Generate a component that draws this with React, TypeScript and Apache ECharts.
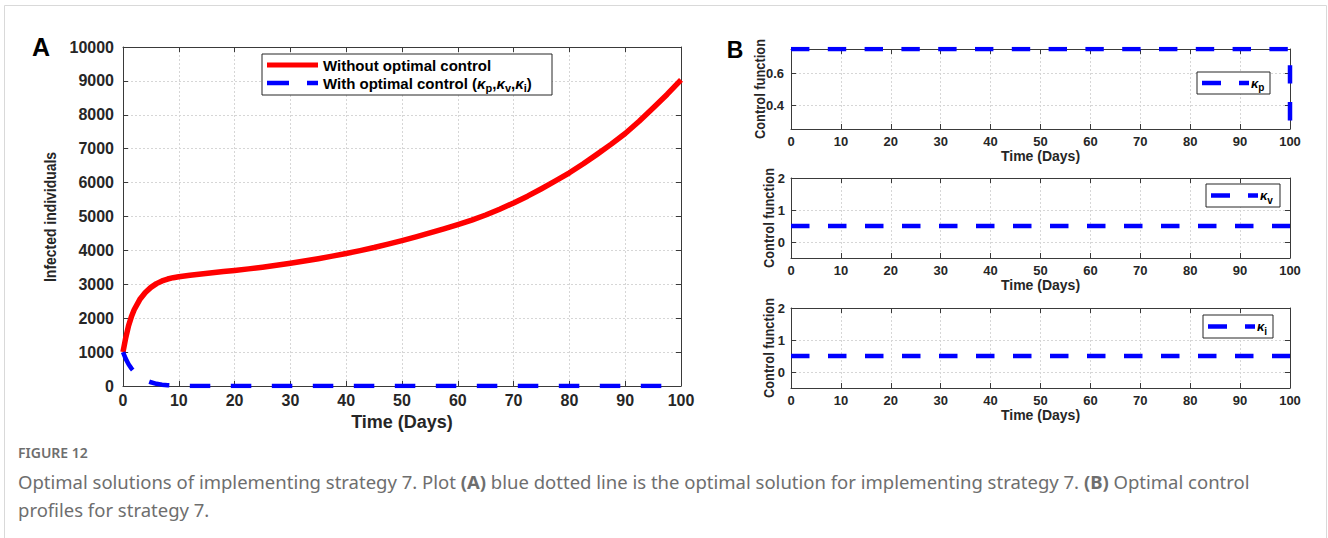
import React, { useEffect, useRef } from "react";
import * as echarts from "echarts";

// Panel A: infected individuals over time
const daysWithout = [
  0, 0.5, 1, 1.5, 2, 3, 4, 5, 6, 7, 8, 9, 10, 12, 14, 16, 18, 20, 22.5, 25, 27.5, 30, 32.5, 35, 37.5, 40,
  42.5, 45, 47.5, 50, 52.5, 55, 57.5, 60, 62.5, 65, 67.5, 70, 72.5, 75, 77.5, 80, 82.5, 85, 87.5, 90, 92.5, 95, 97.5, 100,
];
const infectedWithout = [
  1000, 1430, 1780, 2040, 2250, 2550, 2760, 2910, 3020, 3100, 3155, 3195, 3225, 3268, 3305, 3340, 3375, 3410, 3455, 3505, 3560, 3620, 3685, 3755, 3830, 3910,
  3995, 4085, 4185, 4290, 4400, 4515, 4635, 4760, 4895, 5045, 5215, 5400, 5600, 5820, 6050, 6290, 6555, 6840, 7135, 7450, 7810, 8200, 8600, 9030,
];

const daysWith = [0, 0.5, 1, 1.5, 2, 3, 4, 5, 6, 7, 8, 10, 12, 15, 20, 30, 40, 50, 60, 70, 80, 90, 100];
const infectedWith = [1000, 800, 640, 520, 420, 270, 170, 110, 65, 40, 22, 8, 3, 1, 0, 0, 0, 0, 0, 0, 0, 0, 0];

// Panel B: control profiles
const kpDays = [0, 100, 100];
const kpValues = [0.75, 0.75, 0.25];
const kvDays = [0, 100];
const kvValues = [0.5, 0.5];
const kiDays = [0, 100];
const kiValues = [0.5, 0.5];

const xTicks = [0, 100, 10];
const yTicksA = [0, 10000, 1000];
const yTicksKp = [0.4, 0.6];
const yTicksKvKi = [0, 1, 2];

const legendA = ["Without optimal control", "With optimal control"];
const yTitleA = "Infected individuals";
const yTitleB = "Control function";
const captionTitle = "FIGURE 12";

const AXIS_COLOR = "#3a3a3a";
const LABEL_COLOR = "#262626";
const GRID_LINE = { color: "#d6d6d6", type: [2, 2] as number[], width: 1 };
const BOLD = "'Liberation Sans', Arial, sans-serif";
const CAPTION_FONT = "'Noto Sans', sans-serif";
const CAPTION_COLOR = "#6e6e6e";

const zip = (xs: number[], ys: number[]) => xs.map((x, i) => [x, ys[i]]);

type GridBox = { left: number; top: number; width: number; height: number };
const grids: GridBox[] = [
  { left: 123, top: 47, width: 558, height: 339 },
  { left: 791, top: 49, width: 499, height: 80 },
  { left: 791, top: 178, width: 499, height: 80 },
  { left: 791, top: 308, width: 499, height: 80 },
];

function mainX(gridIndex: number, fontSize: number, nameSize: number, nameGap: number) {
  return {
    type: "value",
    gridIndex,
    position: "bottom",
    min: xTicks[0],
    max: xTicks[1],
    interval: xTicks[2],
    name: "Time (Days)",
    nameLocation: "middle",
    nameGap,
    nameTextStyle: { fontFamily: BOLD, fontWeight: "bold", fontSize: nameSize, color: LABEL_COLOR },
    axisLine: { show: true, onZero: false, lineStyle: { color: AXIS_COLOR, width: 1 } },
    axisTick: { show: true, inside: true, length: 5, lineStyle: { color: AXIS_COLOR } },
    axisLabel: { fontFamily: BOLD, fontWeight: "bold", fontSize, color: LABEL_COLOR, margin: 6 },
    splitLine: { show: true, lineStyle: GRID_LINE },
  };
}

function mirrorX(gridIndex: number) {
  return {
    type: "value",
    gridIndex,
    position: "top",
    min: xTicks[0],
    max: xTicks[1],
    interval: xTicks[2],
    axisLine: { show: true, onZero: false, lineStyle: { color: AXIS_COLOR, width: 1 } },
    axisTick: { show: true, inside: true, length: 5, lineStyle: { color: AXIS_COLOR } },
    axisLabel: { show: false },
    splitLine: { show: false },
  };
}

function yPair(gridIndex: number, cfg: any, labelSize: number, margin: number) {
  const tickCfg = cfg.custom ? { customValues: cfg.custom } : {};
  const main = {
    type: "value",
    gridIndex,
    position: "left",
    min: cfg.min,
    max: cfg.max,
    ...(cfg.interval ? { interval: cfg.interval } : {}),
    axisLine: { show: true, onZero: false, lineStyle: { color: AXIS_COLOR, width: 1 } },
    axisTick: { show: true, inside: true, length: 5, lineStyle: { color: AXIS_COLOR }, ...tickCfg },
    axisLabel: {
      fontFamily: BOLD,
      fontWeight: "bold",
      fontSize: labelSize,
      color: LABEL_COLOR,
      margin,
      formatter: (v: number) => String(v),
      ...tickCfg,
    },
    splitLine: { show: true, lineStyle: GRID_LINE },
  };
  const mirror = {
    type: "value",
    gridIndex,
    position: "right",
    min: cfg.min,
    max: cfg.max,
    ...(cfg.interval ? { interval: cfg.interval } : {}),
    axisLine: { show: true, onZero: false, lineStyle: { color: AXIS_COLOR, width: 1 } },
    axisTick: { show: true, inside: true, length: 5, lineStyle: { color: AXIS_COLOR }, ...tickCfg },
    axisLabel: { show: false },
    splitLine: { show: false },
  };
  return [main, mirror];
}

// Rotated, slightly condensed axis title
function yTitle(text: string, cx: number, cy: number, fontSize: number, squeeze: number) {
  return {
    type: "text",
    x: cx,
    y: cy,
    rotation: Math.PI / 2,
    scaleX: squeeze,
    style: { text, fontFamily: BOLD, fontWeight: "bold", fontSize, fill: LABEL_COLOR, align: "center", verticalAlign: "middle" },
  };
}

function controlLegend(x: number, y: number, w: number, h: number, sub: string) {
  const cy = y + h / 2;
  return [
    { type: "rect", z: 100, shape: { x, y, width: w, height: h }, style: { fill: "#fff", stroke: "#262626", lineWidth: 1 } },
    { type: "line", z: 101, shape: { x1: x + 5, y1: cy, x2: x + 24, y2: cy }, style: { stroke: "#0000ff", lineWidth: 4.5 } },
    { type: "line", z: 101, shape: { x1: x + 42, y1: cy, x2: x + 52, y2: cy }, style: { stroke: "#0000ff", lineWidth: 4.5 } },
    {
      type: "text",
      z: 101,
      x: x + 54,
      y: cy,
      style: {
        text: `{k|κ}{s|${sub}}`,
        verticalAlign: "middle",
        rich: {
          k: { fontFamily: BOLD, fontStyle: "italic", fontWeight: "bold", fontSize: 13, fill: "#000" },
          s: { fontFamily: BOLD, fontWeight: "bold", fontSize: 10, fill: "#000", padding: [9, 0, 0, 0] },
        },
      },
    },
  ];
}

export default function App() {
  const ref = useRef<HTMLDivElement>(null);

  useEffect(() => {
    if (!ref.current) return;
    const chart = echarts.init(ref.current, undefined, { renderer: "svg" });

    const [yA, yA2] = yPair(0, { min: yTicksA[0], max: yTicksA[1], interval: yTicksA[2] }, 16, 9);
    const [y1, y1b] = yPair(1, { min: 0.25, max: 0.75, custom: yTicksKp }, 13, 7);
    const [y2, y2b] = yPair(2, { min: -0.5, max: 2, custom: yTicksKvKi }, 13, 6);
    const [y3, y3b] = yPair(3, { min: -0.5, max: 2, custom: yTicksKvKi }, 13, 6);

    const blueDash = (gi: number, data: number[][], dash: number[], width: number, name: string) => ({
      type: "line",
      name,
      xAxisIndex: gi * 2,
      yAxisIndex: gi * 2,
      data,
      showSymbol: false,
      symbol: "none",
      lineStyle: { color: "#0000ff", width, type: dash, cap: "butt" },
      z: 3,
    });

    const option: any = {
      animation: false,
      backgroundColor: "#ffffff",
      grid: grids.map((g) => ({ ...g, containLabel: false })),
      xAxis: [
        mainX(0, 16, 18, 22), mirrorX(0),
        mainX(1, 13, 14, 20), mirrorX(1),
        mainX(2, 13, 14, 20), mirrorX(2),
        mainX(3, 13, 14, 20), mirrorX(3),
      ],
      yAxis: [yA, yA2, y1, y1b, y2, y2b, y3, y3b],
      series: [
        {
          type: "line",
          name: legendA[0],
          xAxisIndex: 0,
          yAxisIndex: 0,
          data: zip(daysWithout, infectedWithout),
          showSymbol: false,
          symbol: "none",
          lineStyle: { color: "#ff0000", width: 5.5, join: "round" },
          z: 3,
        },
        blueDash(0, zip(daysWith, infectedWith), [20.5, 20.5], 4.5, legendA[1]),
        blueDash(1, zip(kpDays, kpValues), [18.4, 18.4], 4.5, "κp"),
        blueDash(2, zip(kvDays, kvValues), [18.5, 18.5], 4.5, "κv"),
        blueDash(3, zip(kiDays, kiValues), [18.5, 18.5], 4.5, "κi"),
      ],
      graphic: [
        // page frame
        { type: "rect", z: 0, shape: { x: 4.5, y: 5.5, width: 1322, height: 540 }, style: { fill: "none", stroke: "#d9d9d9", lineWidth: 1 } },
        // panel letters
        { type: "text", x: 41, y: 47, style: { text: "A", fontFamily: BOLD, fontWeight: "bold", fontSize: 25, fill: "#000", align: "center", verticalAlign: "middle" } },
        { type: "text", x: 735, y: 50, style: { text: "B", fontFamily: BOLD, fontWeight: "bold", fontSize: 23, fill: "#000", align: "center", verticalAlign: "middle" } },
        // y axis titles
        yTitle(yTitleA, 50, 217, 17, 0.82),
        yTitle(yTitleB, 760, 89, 14, 0.92),
        yTitle(yTitleB, 769, 218, 14, 0.92),
        yTitle(yTitleB, 769, 348, 14, 0.92),
        // legend of panel A
        { type: "rect", z: 100, shape: { x: 262, y: 54, width: 290, height: 41 }, style: { fill: "#fff", stroke: "#262626", lineWidth: 1 } },
        { type: "line", z: 101, shape: { x1: 267, y1: 65, x2: 318, y2: 65 }, style: { stroke: "#ff0000", lineWidth: 5 } },
        { type: "line", z: 101, shape: { x1: 267, y1: 83, x2: 289, y2: 83 }, style: { stroke: "#0000ff", lineWidth: 4.5 } },
        { type: "line", z: 101, shape: { x1: 307, y1: 83, x2: 318, y2: 83 }, style: { stroke: "#0000ff", lineWidth: 4.5 } },
        { type: "text", z: 101, x: 323, y: 65, style: { text: legendA[0], fontFamily: BOLD, fontWeight: "bold", fontSize: 15, fill: "#000", verticalAlign: "middle" } },
        {
          type: "text",
          z: 101,
          x: 323,
          y: 83,
          style: {
            text: `{b|${legendA[1]} (}{k|κ}{s|p}{b|,}{k|κ}{s|v}{b|,}{k|κ}{s|i}{b|)}`,
            verticalAlign: "middle",
            rich: {
              b: { fontFamily: BOLD, fontWeight: "bold", fontSize: 15, fill: "#000" },
              k: { fontFamily: BOLD, fontStyle: "italic", fontWeight: "bold", fontSize: 15, fill: "#000" },
              s: { fontFamily: BOLD, fontWeight: "bold", fontSize: 11, fill: "#000", padding: [10, 0, 0, 0] },
            },
          },
        },
        // legends of panel B
        ...controlLegend(1197, 72, 73, 22, "p"),
        ...controlLegend(1206, 184, 74, 23, "v"),
        ...controlLegend(1203, 315, 70, 23, "i"),
        // caption
        { type: "text", x: 18, y: 452, style: { text: captionTitle, fontFamily: CAPTION_FONT, fontWeight: 600, fontSize: 14, fill: CAPTION_COLOR, verticalAlign: "middle" } },
        {
          type: "text",
          x: 18,
          y: 481,
          style: {
            text: "{n|Optimal solutions of implementing strategy 7. Plot }{b|(A)}{n| blue dotted line is the optimal solution for implementing strategy 7. }{b|(B)}{n| Optimal control}",
            verticalAlign: "middle",
            rich: {
              n: { fontFamily: CAPTION_FONT, fontSize: 18.5, fill: CAPTION_COLOR },
              b: { fontFamily: CAPTION_FONT, fontWeight: "bold", fontSize: 18.5, fill: CAPTION_COLOR },
            },
          },
        },
        { type: "text", x: 18, y: 509, style: { text: "profiles for strategy 7.", fontFamily: CAPTION_FONT, fontSize: 18.5, fill: CAPTION_COLOR, verticalAlign: "middle" } },
      ],
    };

    chart.setOption(option);
    return () => chart.dispose();
  }, []);

  return <div ref={ref} style={{ position: "absolute", left: 0, top: 0, width: 1328, height: 538 }} />;
}
